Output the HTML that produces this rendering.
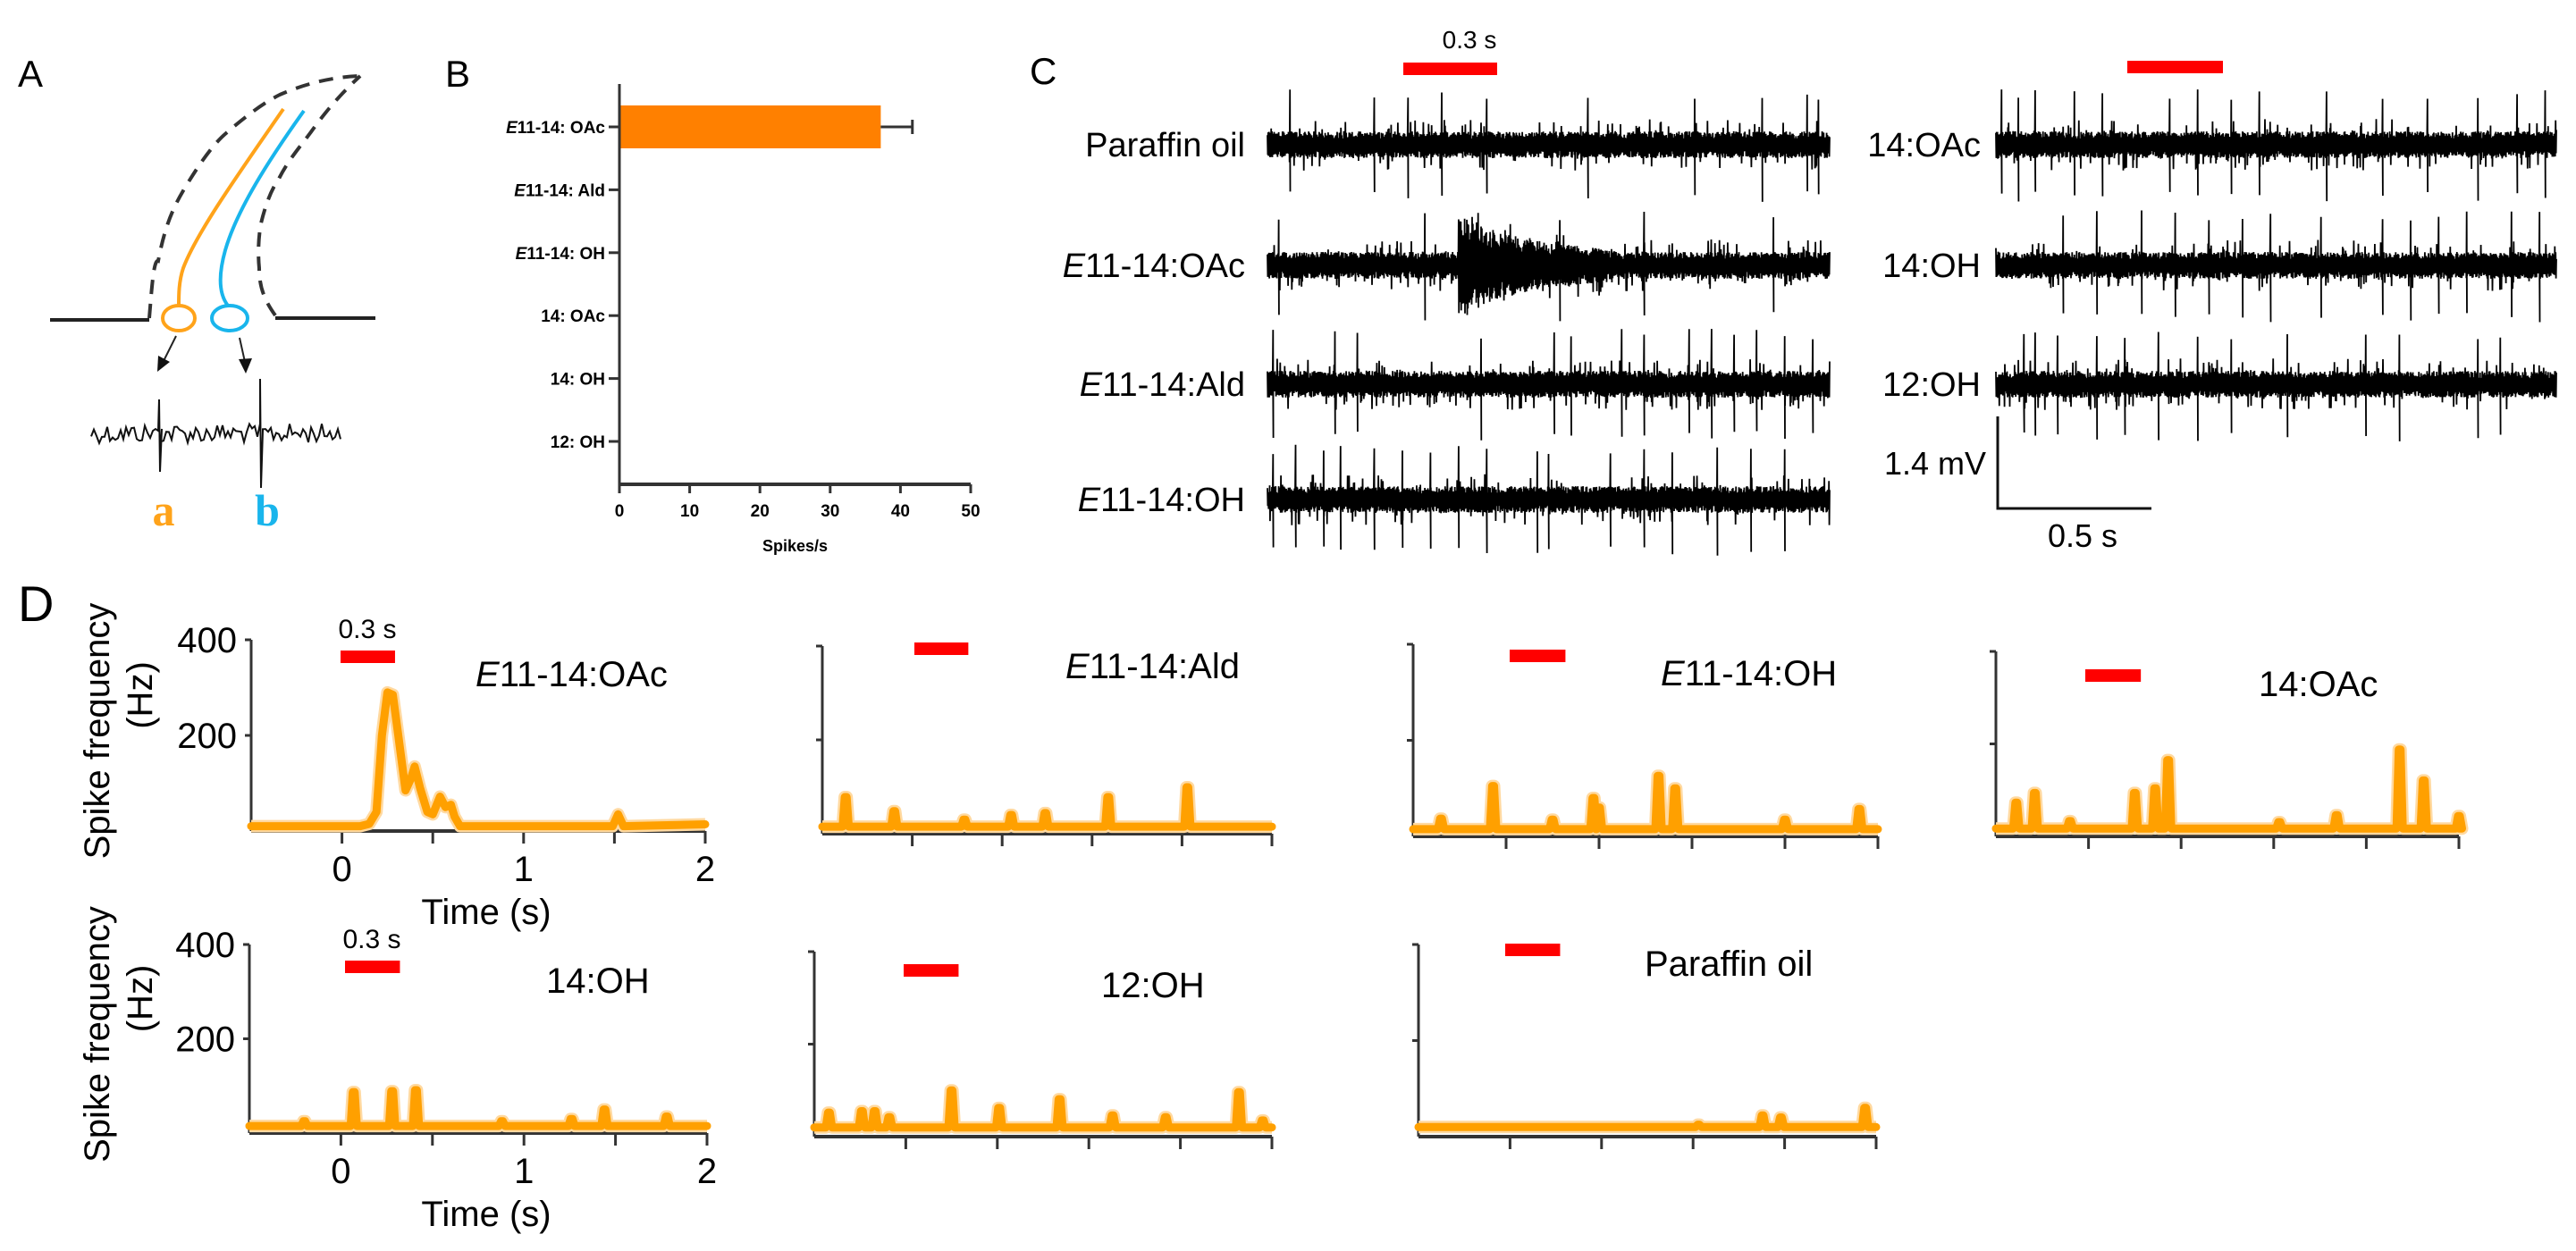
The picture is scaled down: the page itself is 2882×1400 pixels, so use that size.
<!DOCTYPE html>
<html><head><meta charset="utf-8"><style>
html,body{margin:0;padding:0;background:#fff;}
svg{display:block;font-family:"Liberation Sans",Arial,sans-serif;}
</style></head><body>
<svg id="fig" xmlns="http://www.w3.org/2000/svg" width="2882" height="1400" viewBox="0 0 2882 1400">
<rect width="2882" height="1400" fill="#fff"/>
<!-- Panel A -->
<g>
<text x="20" y="97" font-size="42">A</text>
<path d="M167,356 C170,320 172,290 177,292 C185,250 195,230 207,210 C225,180 240,160 253,149 C275,130 295,115 313,106 C345,92 375,86 403,85" fill="none" stroke="#333" stroke-width="4" stroke-dasharray="16,11"/>
<path d="M308,353 C295,335 290,320 290,300 C288,280 290,260 292,250 C298,225 305,210 312,200 C322,180 335,165 347,149 C362,128 378,108 403,85" fill="none" stroke="#333" stroke-width="4" stroke-dasharray="16,11"/>
<path d="M317,122 C270,190 220,260 205,300 C200,315 200,330 200,342" fill="none" stroke="#ffa31a" stroke-width="4"/>
<path d="M340,124 C300,180 265,235 252,280 C245,305 244,328 255,342" fill="none" stroke="#19b5ec" stroke-width="4"/>
<ellipse cx="200" cy="356" rx="18" ry="14" fill="none" stroke="#ffa31a" stroke-width="4"/>
<ellipse cx="257" cy="356" rx="20" ry="14" fill="none" stroke="#19b5ec" stroke-width="4"/>
<line x1="56" y1="358" x2="167" y2="358" stroke="#222" stroke-width="4"/>
<line x1="308" y1="356" x2="420" y2="356" stroke="#222" stroke-width="4"/>
<line x1="197" y1="376" x2="182" y2="406" stroke="#222" stroke-width="2"/>
<polygon points="176,416 177,398 190,405" fill="#111"/>
<line x1="268" y1="378" x2="274" y2="405" stroke="#222" stroke-width="2"/>
<polygon points="275,418 267,402 282,401" fill="#111"/>
<polyline id="miniTrace" fill="none" stroke="#111" stroke-width="2"/>
<text x="183" y="588" font-size="50" font-weight="bold" font-family="Liberation Serif,serif" fill="#ffa31a" text-anchor="middle">a</text>
<text x="299" y="588" font-size="50" font-weight="bold" font-family="Liberation Serif,serif" fill="#19b5ec" text-anchor="middle">b</text>
</g>
<!-- Panel B -->
<g id="panelB">
<text x="498" y="97" font-size="42">B</text>
</g>
<!-- Panel C -->
<g id="panelC">
<text x="1152" y="94" font-size="42">C</text>
<text x="1644" y="54" font-size="28" text-anchor="middle">0.3 s</text>
<rect x="1570" y="70" width="105" height="14" fill="#ff0000"/>
<rect x="2380" y="68" width="107" height="14" fill="#ff0000"/>
<path d="M2235,466 L2235,569 L2407,569" fill="none" stroke="#111" stroke-width="3"/>
<text x="2222" y="531" font-size="36" text-anchor="end">1.4 mV</text>
<text x="2330" y="612" font-size="36" text-anchor="middle">0.5 s</text>
</g>
<!-- Panel D -->
<g id="panelD">
<text x="20" y="695" font-size="56">D</text>
</g>
</svg>
<script>
const NS='http://www.w3.org/2000/svg';
function mk(tag,attrs,parent){const e=document.createElementNS(NS,tag);for(const k in attrs)e.setAttribute(k,attrs[k]);parent.appendChild(e);return e;}
function txt(s,attrs,parent){const e=mk('text',attrs,parent);e.textContent=s;return e;}

// ---------- Panel B data ----------
const bCategories=['E11-14: OAc','E11-14: Ald','E11-14: OH','14: OAc','14: OH','12: OH'];
const bValues=[37.2,0,0,0,0,0];
const bErrors=[4.5,0,0,0,0,0];
const bTicks=[0,10,20,30,40,50];

// ---------- Panel D data ----------
const d1Times=[-0.5,0.1,0.15,0.19,0.22,0.25,0.28,0.31,0.35,0.38,0.40,0.43,0.47,0.50,0.54,0.57,0.60,0.62,0.65,1.49,1.52,1.55,2.0];
const d1Values=[10,10,15,40,200,290,285,200,85,110,135,90,40,35,72,50,55,30,10,10,35,10,14];
const d2PeakTimes=[-0.37,-0.1,0.29,0.55,0.74,1.09,1.53];
const d2PeakValues=[78,48,30,40,44,78,99];
const d3PeakTimes=[-0.35,-0.07,0.25,0.47,0.50,0.82,0.91,1.5,1.9];
const d3PeakValues=[37,105,35,80,60,126,100,35,57];
const d4PeakTimes=[-0.39,-0.29,-0.1,0.25,0.36,0.43,1.03,1.34,1.68,1.81,2.0];
const d4PeakValues=[73,94,33,94,104,165,31,46,188,121,44];
const d5PeakTimes=[-0.2,0.07,0.28,0.41,0.88,1.26,1.44,1.78];
const d5PeakValues=[25,87,89,91,25,30,50,35];
const d6PeakTimes=[-0.42,-0.24,-0.17,-0.09,0.25,0.51,0.84,1.13,1.42,1.82,1.95];
const d6PeakValues=[52,55,55,42,100,62,81,46,42,96,35];
const d7PeakTimes=[1.03,1.38,1.48,1.94];
const d7PeakValues=[25,44,40,60];
const dBaselines=[12,15,15,17,15,20,20];
const xTickVals=[0,0.5,1,1.5,2];
const xTickLabels=['0','','1','','2'];
const yTickVals=[200,400];

// ---------- Panel C spike positions (fraction of trace width) ----------
const cSpikes=[
 [.04,.19,.25,.31,.39,.57,.76,.88,.96,.98],
 [.02,.28,.34,.52,.67,.9],
 [.01,.12,.16,.38,.51,.54,.63,.67,.75,.79,.83,.87,.92,.97],
 [.01,.05,.1,.13,.19,.24,.29,.34,.39,.48,.5,.61,.67,.72,.8,.86,.92],
 [.01,.04,.07,.14,.19,.31,.36,.42,.47,.59,.69,.77,.86,.93,.98],
 [.12,.18,.26,.32,.38,.44,.49,.58,.69,.74,.79,.84,.92,.97],
 [.05,.07,.11,.18,.23,.29,.36,.42,.52,.66,.72,.86,.9]
];
const cLabels=['Paraffin oil','E11-14:OAc','E11-14:Ald','E11-14:OH','14:OAc','14:OH','12:OH'];

// seeded generator for trace background noise texture
let seed=12345;function rnd(){seed=(seed*1103515245+12345)%2147483648;return seed/2147483648;}

// ---- mini trace in panel A
(function(){
  const pts=[];const x0=102,x1=383,cy=485;
  for(let x=x0;x<=x1;x+=3){let y=cy+(rnd()-0.5)*22;pts.push(x+','+y.toFixed(1));}
  const arr=pts.map(p=>p.split(',').map(Number));
  const out=[];
  for(const [x,y] of arr){
    out.push(x+','+y);
    if(Math.abs(x-178)<1.6){out.push('178,447','179,528','181,480');}
    if(Math.abs(x-291)<1.6){out.push('291,424','292,546','294,482');}
  }
  document.getElementById('miniTrace').setAttribute('points',out.join(' '));
})();

// ---- Panel B
(function(){
  const g=document.getElementById('panelB');
  const ax0=693,ax1=1086,yTop=94,yBot=542;
  const xs=v=>ax0+(v-0)/(50-0)*(ax1-ax0);
  const yc=i=>yTop+48+i*(yBot-yTop-96)/(bCategories.length-1);
  bCategories.forEach((c,i)=>{
    const y=yc(i);
    const bw=bValues[i];
    if(bw>0){
      const r=mk('rect',{x:ax0,y:y-24,width:xs(bw)-ax0,height:48,fill:'#ff8000'},g);
      
      
      const e=mk('path',{d:`M${xs(bw)},${y} H${xs(bw+bErrors[i])} M${xs(bw+bErrors[i])},${y-8} V${y+8}`,stroke:'#333','stroke-width':3,fill:'none'},g);
      
      
    }
    mk('line',{x1:ax0-12,y1:y,x2:ax0,y2:y,stroke:'#333','stroke-width':3},g);
    const t=mk('text',{x:ax0-16,y:y+7,'font-size':19,'font-weight':'bold','text-anchor':'end'},g);
    
    
    if(c[0]==='E'){const s=mk('tspan',{'font-style':'italic'},t);s.textContent='E';const s2=mk('tspan',{},t);s2.textContent=c.slice(1);}else t.textContent=c;
  });
  mk('line',{x1:ax0,y1:yTop,x2:ax0,y2:yBot,stroke:'#333','stroke-width':3},g);
  mk('line',{x1:ax0,y1:yBot,x2:ax1,y2:yBot,stroke:'#333','stroke-width':4},g);
  bTicks.forEach(v=>{
    mk('line',{x1:xs(v),y1:yBot,x2:xs(v),y2:yBot+10,stroke:'#333','stroke-width':3},g);
    const t=txt(String(v),{x:xs(v),y:yBot+36,'font-size':19,'font-weight':'bold','text-anchor':'middle'},g);
    
    
  });
  const at=txt('Spikes/s',{x:(ax0+ax1)/2,y:yBot+75,'font-size':18,'font-weight':'bold','text-anchor':'middle'},g);
  
  
})();

// ---- Panel C traces
(function(){
  const g=document.getElementById('panelC');
  const left={x0:1418,x1:2047,lx:1393},right={x0:2233,x1:2860,lx:2216};
  const rowsY=[162,297,430,559];
  const layout=[[left,0],[left,1],[left,2],[left,3],[right,0],[right,1],[right,2]];
  layout.forEach(([col,r],i)=>{
    const cy=rowsY[r];const w=col.x1-col.x0;const N=1500;
    const sp=cSpikes[i].map(f=>Math.round(f*N));
    let d='';
    for(let k=0;k<=N;k++){
      const x=col.x0+k*w/N;
      let amp=15+(rnd()<0.08?14:0);
      if(i===1){const f=k/N;if(f>0.34&&f<0.62)amp+=45*Math.exp(-(f-0.34)*9);}
      let y=cy+(k%2?1:-1)*amp*(0.45+0.55*rnd());
      if(sp.includes(k)){d+=`L${x.toFixed(1)},${cy-50-rnd()*12} L${(x+0.3).toFixed(1)},${cy+52+rnd()*12} `;}
      d+=(k?'L':'M')+x.toFixed(1)+','+y.toFixed(1)+' ';
    }
    const p=mk('path',{d:d,fill:'none',stroke:'#000','stroke-width':1.8},g);
    
    
    const t=mk('text',{x:col.lx,y:cy+13,'font-size':38,'text-anchor':'end'},g);
    
    
    const c=cLabels[i];
    if(c[0]==='E'){const s=mk('tspan',{'font-style':'italic'},t);s.textContent='E';const s2=mk('tspan',{},t);s2.textContent=c.slice(1);}else t.textContent=c;
  });
})();

// ---- Panel D
(function(){
  const g=document.getElementById('panelD');
  function peaksToSeries(times,vals,base){
    const T=[-0.5],V=[base];
    times.forEach((t,i)=>{T.push(t-0.017,t-0.005,t+0.005,t+0.017);V.push(base,vals[i],vals[i],base);});
    T.push(2.0);V.push(base);
    return [T,V];
  }
  const plots=[
    {name:'E11-14:OAc',x0:281,x2:789,yTop:716,yBase:930,series:[d1Times,d1Values],bar:[381,728],lab:[532,768],ticks:true,y:true,bar03:true},
    {name:'E11-14:Ald',x0:920,x2:1423,yTop:723,yBase:933,series:peaksToSeries(d2PeakTimes,d2PeakValues,dBaselines[1]),bar:[1023,719],lab:[1192,759]},
    {name:'E11-14:OH',x0:1581,x2:2101,yTop:721,yBase:936,series:peaksToSeries(d3PeakTimes,d3PeakValues,dBaselines[2]),bar:[1689,727],lab:[1858,767]},
    {name:'14:OAc',x0:2233,x2:2751,yTop:729,yBase:936,series:peaksToSeries(d4PeakTimes,d4PeakValues,dBaselines[3]),bar:[2333,749],lab:[2527,779]},
    {name:'14:OH',x0:279,x2:791,yTop:1057,yBase:1268,series:peaksToSeries(d5PeakTimes,d5PeakValues,dBaselines[4]),bar:[386,1075],lab:[611,1111],ticks:true,y:true,bar03:true},
    {name:'12:OH',x0:911,x2:1423,yTop:1065,yBase:1272,series:peaksToSeries(d6PeakTimes,d6PeakValues,dBaselines[5]),bar:[1011,1079],lab:[1232,1116]},
    {name:'Paraffin oil',x0:1587,x2:2099,yTop:1057,yBase:1272,series:peaksToSeries(d7PeakTimes,d7PeakValues,dBaselines[6]),bar:[1684,1056],lab:[1840,1092]}
  ];
  plots.forEach(p=>{
    const pg=mk('g',{},g);
    
    
    const xs=t=>p.x0+(t+0.5)*(p.x2-p.x0)/2.5;
    const ys=v=>p.yBase-v*(p.yBase-p.yTop)/400;
    mk('line',{x1:p.x0,y1:p.yTop,x2:p.x0,y2:p.yBase,stroke:'#333','stroke-width':3},pg);
    mk('line',{x1:p.x0,y1:p.yBase,x2:p.x2,y2:p.yBase,stroke:'#333','stroke-width':4},pg);
    yTickVals.forEach(v=>{
      mk('line',{x1:p.x0-7,y1:ys(v),x2:p.x0,y2:ys(v),stroke:'#333','stroke-width':3},pg);
      if(p.y){const t=txt(String(v),{x:p.x0-16,y:ys(v)+14,'font-size':40,'text-anchor':'end'},pg);
        
        }
    });
    xTickVals.forEach((v,i)=>{
      mk('line',{x1:xs(v),y1:p.yBase,x2:xs(v),y2:p.yBase+14,stroke:'#333','stroke-width':3},pg);
      if(p.ticks&&xTickLabels[i]){const t=txt(xTickLabels[i],{x:xs(v),y:p.yBase+56,'font-size':40,'text-anchor':'middle'},pg);
        
        }
    });
    if(p.ticks){
      const t=txt('Time (s)',{x:544,y:p.yBase+104,'font-size':40,'text-anchor':'middle'},pg);
      
      
      const cy=(p.yTop+p.yBase)/2-5;
      const t1=txt('Spike frequency',{x:122,y:cy,'font-size':40,'text-anchor':'middle',transform:`rotate(-90 122 ${cy})`},pg);
      
      
      const t2=txt('(Hz)',{x:170,y:cy-40,'font-size':40,'text-anchor':'middle',transform:`rotate(-90 170 ${cy-40})`},pg);
      
      
    }
    const [T,V]=p.series;
    let d='';T.forEach((t,i)=>{d+=(i?'L':'M')+xs(t).toFixed(1)+','+ys(V[i]).toFixed(1)+' ';});
    const band=mk('path',{d:d,fill:'none',stroke:'#ffd9a0','stroke-width':14,'stroke-linejoin':'round'},pg);
    
    
    const line=mk('path',{d:d,fill:'none',stroke:'#ffa000','stroke-width':9,'stroke-linejoin':'round','stroke-linecap':'round'},pg);
    
    
    const bar=mk('rect',{x:p.bar[0],y:p.bar[1],width:(p.x2-p.x0)*0.3/2.5,height:14,fill:'#ff0000'},pg);
    
    
    if(p.bar03){const t=txt('0.3 s',{x:p.bar[0]+30,y:p.bar[1]-14,'font-size':30,'text-anchor':'middle'},pg);
      
      }
    const lt=mk('text',{x:p.lab[0],y:p.lab[1],'font-size':40},pg);
    
    
    if(p.name[0]==='E'){const s=mk('tspan',{'font-style':'italic'},lt);s.textContent='E';const s2=mk('tspan',{},lt);s2.textContent=p.name.slice(1);}else lt.textContent=p.name;
  });
})();
</script>
</body></html>
